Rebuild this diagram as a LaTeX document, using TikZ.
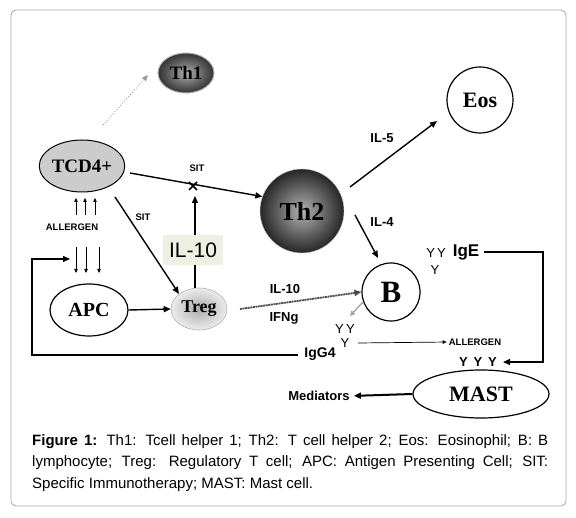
\documentclass[tikz,border=0pt]{standalone}
\usepackage{fontspec}
\setmainfont{Liberation Serif}
\setsansfont{Liberation Sans}
\usetikzlibrary{arrows.meta,shapes.geometric}
\begin{document}
\begin{tikzpicture}[x=1pt,y=-1pt,
  lbl/.style={font=\sffamily\bfseries\fontsize{13}{15}\selectfont, inner sep=0},
  small/.style={font=\sffamily\bfseries\fontsize{9.5}{11}\selectfont, inner sep=0},
  ylab/.style={font=\sffamily\fontsize{13}{15}\selectfont, inner sep=0},
  cell/.style={ellipse, draw=black, line width=1pt, inner sep=0, font=\bfseries},
  arr/.style={-{Triangle[length=7pt,width=6pt]}, line width=1.4pt},
  thinarr/.style={-{Triangle[length=4pt,width=3.5pt]}, line width=0.6pt}
]
\useasboundingbox (0,0) rectangle (576,518);
\draw[gray!70, line width=0.8pt, rounded corners=5pt] (11,10) rectangle (566,506);

% nodes
\node[cell, draw=gray!60, minimum width=56pt, minimum height=40pt, inner color=gray!65, outer color=black!80, font=\bfseries\fontsize{19}{21}\selectfont] (th1) at (186,73) {Th1};
\node[cell, fill=gray!40, minimum width=74pt, minimum height=52pt, font=\bfseries\fontsize{19}{21}\selectfont] (tcd) at (82,166) {TCD4+};
\node[circle, draw=gray!50, minimum size=84pt, inner sep=0, inner color=gray!60, outer color=black!85, font=\bfseries\fontsize{26}{28}\selectfont] (th2) at (302,211) {Th2};
\node[circle, draw=black, line width=1.2pt, minimum size=66pt, inner sep=0, font=\bfseries\fontsize{22}{24}\selectfont] (eos) at (480,100) {Eos};
\node[circle, draw=black, line width=1.2pt, minimum size=58pt, inner sep=0, font=\bfseries\fontsize{31}{33}\selectfont] (b) at (391,292) {B};
\node[cell, line width=1.2pt, minimum width=78pt, minimum height=52pt, font=\bfseries\fontsize{20}{22}\selectfont] (apc) at (89,310) {APC};
\node[cell, draw=gray!60, line width=0.6pt, minimum width=56pt, minimum height=42pt, inner color=gray!65, outer color=gray!15, font=\bfseries\fontsize{18}{20}\selectfont] (treg) at (199,309) {Treg};
\node[cell, line width=1.2pt, minimum width=136pt, minimum height=48pt, font=\bfseries\fontsize{22}{24}\selectfont] (mast) at (481,394) {MAST};

% TCD4+ -> Th1
\coordinate (th1tip) at (148,75);
\draw[gray!80, dotted, line width=0.9pt, -{Triangle[length=6pt,width=5pt]}] (103,125) -- (th1tip);
% TCD4+ -> Th2 with SIT block
\draw[arr] (130,173) -- (th2.160);
\coordinate (x) at (193,186);
\draw[line width=1.6pt] (x) ++(-4,-4) -- ++(8,8) (x) ++(-4,4) -- ++(8,-8);
\node[small] (sit1) at (197,168) {SIT};
% TCD4+ -> Treg
\draw[arr] (115,197) -- (treg.north west);
\node[small] (sit2) at (143,217) {SIT};
% Treg -> X (IL-10)
\coordinate (tregtop) at (195,288);
\draw[arr] (tregtop) -- (195,196);
\node[fill={rgb,255:red,238;green,240;blue,228}, minimum width=60pt, minimum height=30pt, inner sep=0, font=\sffamily\fontsize{21}{23}\selectfont] (il10box) at (193,250) {IL-10};
% allergen arrows up
\foreach \xx in {76,85,95} \draw[thinarr] (\xx,215) -- (\xx,198);
\node[small] (all1) at (72,227) {ALLERGEN};
\foreach \xx in {76,86,99} \draw[thinarr] (\xx,247) -- (\xx,273);
% APC -> Treg
\draw[arr] (apc.east) -- (treg.west);
% Treg -> B
\draw[gray!60!black, line width=1.8pt, dash pattern=on 2pt off 0.6pt, -{Triangle[length=7pt,width=6pt]}] (240,309) -- (b.west);
\node[lbl] (il10b) at (285,289) {IL-10};
\node[lbl] (ifng) at (284,318) {IFNg};
% Th2 -> Eos, Th2 -> B
\draw[arr] (350,187) -- (437,121);
\node[lbl] (il5) at (382,138) {IL-5};
\coordinate (btip) at (378,258);
\draw[arr] (355,215) -- (btip);
\node[lbl] (il4) at (382,222) {IL-4};
% B -> IgG4 Y
\draw[gray!70, line width=1.4pt, -{Triangle[length=5pt,width=5pt]}] (363,302) -- (350,316);
\node[ylab] (yy1) at (345,329) {Y\,Y};
\node[ylab] (y1) at (345,343) {Y};
\node[font=\sffamily\bfseries\fontsize{14}{16}\selectfont, inner sep=0] (igg4) at (320,354) {IgG4};
\node[small] (all2) at (475,342) {ALLERGEN};
\draw[thinarr, line width=0.7pt, shorten >=2pt] (358,343) -- (all2.west);
% feedback
\draw[arr, line width=1.3pt] (298,355) -- (32,355) -- (32,259) -- (70,259);
% IgE
\node[ylab] (yy2) at (436,253) {Y\,Y};
\node[ylab] (y2) at (435,270) {Y};
\node[font=\sffamily\bfseries\fontsize{17}{19}\selectfont, inner sep=0] (ige) at (466,252) {IgE};
\node[font=\sffamily\bfseries\fontsize{13}{15}\selectfont, inner sep=0] (yyy) at (478,362) {Y\, Y\, Y};
\draw[arr, line width=1.4pt] (484,252) -- (543,252) -- (543,362) -- (503,362);
% MAST -> Mediators
\node[lbl] (med) at (319,396) {Mediators};
\draw[arr, line width=2pt, shorten >=4pt] (mast.west) -- (med.east);
% caption
\node[anchor=north west, inner sep=0, text width=516pt, align=justify, font=\sffamily\fontsize{15}{21.5}\selectfont] (cap) at (32,434)
{\textbf{Figure 1:} Th1: Tcell helper 1; Th2: T cell helper 2; Eos: Eosinophil; B: B\linebreak lymphocyte; Treg: Regulatory T cell; APC: Antigen Presenting Cell; SIT:\linebreak Specific Immunotherapy; MAST: Mast cell.};
\end{tikzpicture}
\end{document}
